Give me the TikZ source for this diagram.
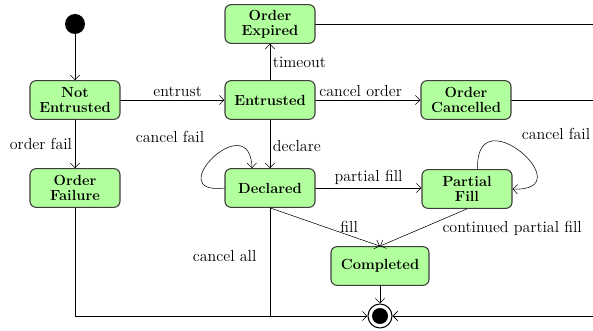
\documentclass[tikz,border=0pt]{standalone}
\usetikzlibrary{arrows.meta}
\definecolor{stategreen}{RGB}{178,255,158}
\definecolor{stateedge}{RGB}{60,60,60}
\tikzset{
  statebox/.style={draw=stateedge, fill=stategreen, rounded corners=4.5pt, thick, minimum width=67.5pt, minimum height=29pt, align=center, inner sep=1pt, font=\fontsize{11}{11.2}\selectfont\bfseries},
  startdot/.style={circle, fill=black, minimum size=15pt, inner sep=0pt},
  enddot/.style={circle, draw, thick, fill=white, minimum size=18pt, inner sep=0pt},
  lbl/.style={font=\fontsize{12}{13}\selectfont, inner sep=2pt}
}
\begin{document}
\begin{tikzpicture}[x=0.75pt, y=-0.75pt, line join=round, line cap=round, >={Straight Barb[length=3.5pt,width=7pt]}]
            \def\W{593}\def\H{331}
            \useasboundingbox (0,0) rectangle (\W,\H);
            \clip (0,0) rectangle (\W,\H);
            \node[startdot] (start) at (75,24) {};
            \node[statebox] (notent) at (75,100) {Not\\Entrusted};
            \node[statebox] (ordfail) at (75,188) {Order\\Failure};
            \node[statebox] (expired) at (270,24) {Order\\Expired};
            \node[statebox] (entr) at (270,100) {Entrusted};
            \node[statebox] (cancelled) at (466,100) {Order\\Cancelled};
            \node[statebox] (decl) at (270,188) {Declared};
            \node[statebox] (partial) at (467,189) {Partial\\Fill};
            \node[statebox, minimum width=73.5pt] (compl) at (380,266) {Completed};
            \node[enddot] (end) at (380,316) {};
            \fill (end.center) circle (6pt);
            \coordinate (rim) at (\W+20,0);
            \draw[->] (start) -- (notent);
            \draw[->] (notent) -- node[lbl, above, pos=0.55] {entrust} (entr);
            \draw[->] (notent) -- node[lbl, left, pos=0.5] {order fail} (ordfail);
            \draw[->] (entr) -- node[lbl, right, pos=0.5] {timeout} (expired);
            \draw[->] (entr) -- node[lbl, above, pos=0.43] {cancel order} (cancelled);
            \draw[->] (entr) -- node[lbl, right, pos=0.55] {declare} (decl);
            \draw[->] (decl.east) -- node[lbl, above, pos=0.5] {partial fill} (decl.east -| partial.west);
            \draw[->] (decl.south) -- node[lbl, above, pos=0.72] {fill} (compl.north);
            \draw[->] (partial.south) -- node[lbl, below right, pos=0.3, inner sep=1pt] {continued partial fill} (compl.north);
            \draw[->] (decl.west) .. controls +(-65,8) and +(-2,-63) .. ([xshift=-13.5pt]decl.north);
            \node[lbl] (declfail) at (170,137) {cancel fail};
            \draw[->] ([xshift=8pt]partial.north) .. controls +(-3,-75) and +(72,3) .. (partial.east);
            \node[lbl] (partfail) at (556,134) {cancel fail};
            \draw[->] (compl) -- (end);
            \draw[->] (ordfail) |- (end);
            \draw (decl) -- node[lbl, left=8pt, pos=0.45] {cancel all} (decl |- end);
            \draw[->] (expired.east) -- (expired.east -| rim) |- (end.east);
            \draw[->] (cancelled.east) -- (cancelled.east -| rim) |- (end.east);
    \end{tikzpicture}
\end{document}
